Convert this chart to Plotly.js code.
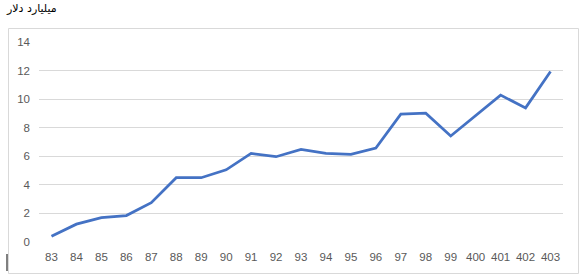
<!DOCTYPE html>
<html>
<head>
<meta charset="utf-8">
<script src="https://cdn.plot.ly/plotly-3.0.1.min.js"></script>
<style>html,body{margin:0;padding:0;background:#fff;}#chart{width:586px;height:275px;}</style>
</head>
<body>
<div id="chart"></div>
<script>
const years = ["83","84","85","86","87","88","89","90","91","92","93","94","95","96","97","98","99","400","401","402","403"];
const values = [0.4,1.25,1.7,1.85,2.75,4.5,4.5,5.05,6.2,5.97,6.48,6.2,6.13,6.58,8.95,9.02,7.42,8.85,10.28,9.39,11.94];
const yTicks = [0,2,4,6,8,10,12,14];
const unitLabel = "میلیارد دلار";

const W = 586, H = 275;
const L = 39, R = 23, T = 42, B = 33;
const pw = W - L - R, ph = H - T - B;
const px = v => (v - L) / pw;
const py = v => (H - B - v) / ph;

const trace = {
  x: years, y: values, type: 'scatter', mode: 'lines',
  line: {color: '#4472C4', width: 2.75}, hoverinfo: 'x+y'
};

const layout = {
  width: W, height: H,
  margin: {l: L, r: R, t: T, b: B, pad: 0},
  paper_bgcolor: '#ffffff', plot_bgcolor: '#ffffff',
  showlegend: false,
  font: {family: 'Liberation Sans, Arial, sans-serif', size: 11, color: '#595959'},
  xaxis: {
    type: 'category', showgrid: false, zeroline: false, showline: false,
    ticks: '', tickfont: {size: 11.5, color: '#595959'}, ticklabelstandoff: 6,
    range: [-0.5, years.length - 0.5], fixedrange: true
  },
  yaxis: {
    range: [0, 14], tickvals: yTicks, showgrid: true, gridcolor: '#d9d9d9', gridwidth: 1,
    zeroline: false, showline: false, ticks: '', tickfont: {size: 11.5, color: '#595959'},
    ticklabelstandoff: 8, fixedrange: true
  },
  shapes: [
    {type: 'rect', xref: 'paper', yref: 'paper', x0: px(8.5), x1: px(578.5), y0: py(273.5), y1: py(28.5),
     line: {color: '#d9d9d9', width: 1}, fillcolor: 'rgba(0,0,0,0)', layer: 'below'},
    {type: 'line', xref: 'paper', yref: 'paper', x0: px(7), x1: px(7), y0: py(271), y1: py(254),
     line: {color: '#000000', width: 1}}
  ],
  annotations: [
    {text: unitLabel, xref: 'paper', yref: 'paper', x: px(4), y: py(9), xanchor: 'left', yanchor: 'middle',
     showarrow: false, font: {family: 'DejaVu Sans, sans-serif', size: 11, color: '#000000'}}
  ]
};

Plotly.newPlot('chart', [trace], layout, {displayModeBar: false, staticPlot: true});
</script>
</body>
</html>
